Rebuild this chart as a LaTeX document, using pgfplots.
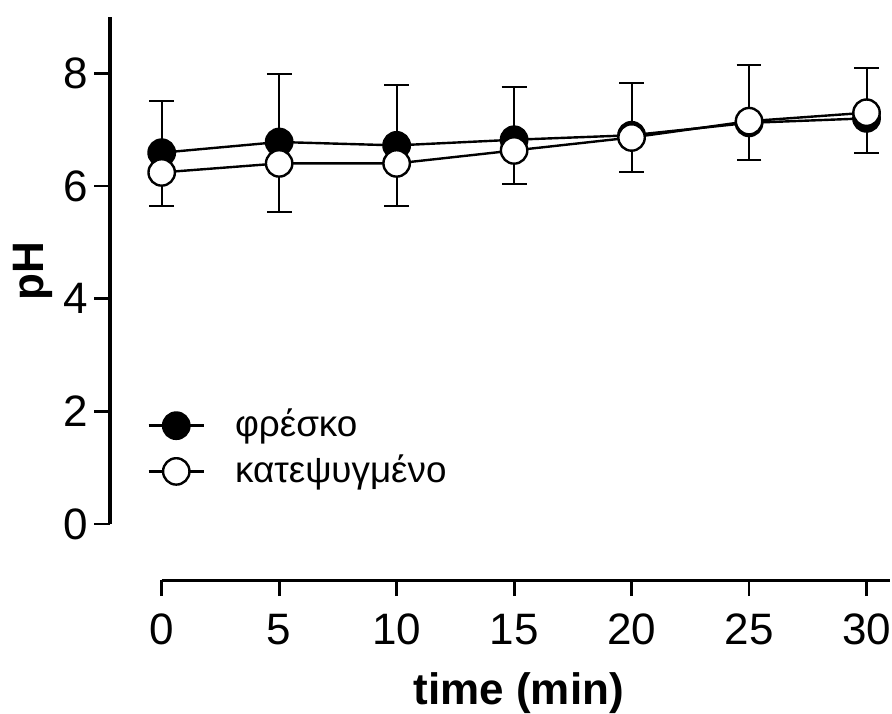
\documentclass[border=0pt]{standalone}
\usepackage{fontspec}
\setmainfont{Liberation Sans}
\usepackage{pgfplots}
\usepackage{pgfplotstable}
\pgfplotsset{compat=1.18}

% pH over time, fresh (filled) vs frozen (open); one-sided error bars
\pgfplotstableread{
t ph err
0 6.59 0.91
5 6.78 1.20
10 6.72 1.08
15 6.82 0.94
20 6.90 0.92
25 7.12 1.03
30 7.20 0.90
}\fresh
\pgfplotstableread{
t ph err
0 6.24 0.59
5 6.40 0.86
10 6.40 0.75
15 6.63 0.59
20 6.86 0.61
25 7.15 0.69
30 7.30 0.71
}\frozen

\begin{document}
\begin{tikzpicture}
\begin{axis}[
  scale only axis, width=195pt, height=145.1pt,
  xmin=-2.2, xmax=31, ymin=-1, ymax=9.3,
  axis line style={draw=none},
  clip=false,
  xtick pos=bottom, ytick pos=left,
  xtick={0,5,...,30}, ytick={0,2,...,8},
  tick align=outside, major tick length=3.9pt,
  tick style={black, line width=0.7pt},
  /pgf/number format/assume math mode=true,
  tick label style={font=\fontsize{11}{13}\selectfont},
  xticklabel style={yshift=-1pt},
  yticklabel style={xshift=2pt},
  label style={font=\fontsize{11}{13}\selectfont\bfseries},
  xlabel={time (min)}, ylabel={pH},
  xlabel style={at={(ticklabel cs:0.524,0pt)}},
  ylabel style={at={(ticklabel cs:0.533,-4pt)}},
  legend cell align=left,
  legend image code/.code={\draw[mark repeat=2,mark phase=2,#1] plot coordinates {(0pt,0pt)(6.9pt,0pt)(13.8pt,0pt)};},
  legend style={at={(axis cs:-1.15,1.34)}, anchor=west, draw=none, fill=none,
    font=\fontsize{9.2}{11}\selectfont, row sep=-1pt,
    /tikz/every odd column/.append style={column sep=5.5pt}},
]
\draw[line width=0.8pt] (axis cs:-2.2,0) -- (axis cs:-2.2,9);
\draw[line width=0.8pt] (axis cs:0,-1) -- (axis cs:31,-1);
\coordinate (bl) at (rel axis cs:0,0);
\coordinate (tr) at (rel axis cs:1,1);

\addplot[black, line width=0.6pt, mark=*, mark size=3.3pt,
  mark options={fill=black, solid},
  error bars/.cd, y dir=plus, y explicit,
  error bar style={line width=0.5pt},
  error mark options={rotate=90, mark size=3.1pt, line width=0.5pt}]
  table[x=t, y=ph, y error=err] {\fresh};
\addlegendentry{φρέσκο}

\addplot[black, line width=0.6pt, mark=*, mark size=3.3pt,
  mark options={fill=white, solid},
  error bars/.cd, y dir=minus, y explicit,
  error bar style={line width=0.5pt},
  error mark options={rotate=90, mark size=3.1pt, line width=0.5pt}]
  table[x=t, y=ph, y error=err] {\frozen};
\addlegendentry{κατεψυγμένο}
\end{axis}
\pgfresetboundingbox
\path ([shift={(-27.5pt,-33.25pt)}]bl) rectangle ([shift={(0.5pt,0pt)}]tr);
\end{tikzpicture}
\end{document}
